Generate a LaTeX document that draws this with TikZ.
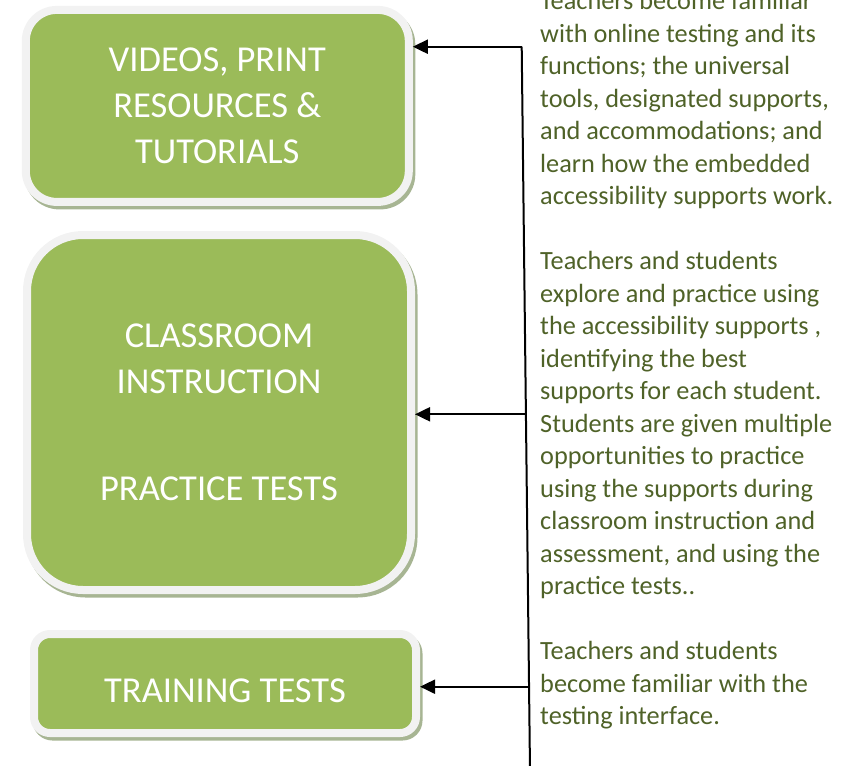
\documentclass[tikz,border=0pt]{standalone}
\usepackage{fontspec}
\setmainfont{Carlito}
\usetikzlibrary{arrows.meta}
\definecolor{boxgreen}{HTML}{9BBB59}
\definecolor{rimgray}{HTML}{F2F2F2}
\definecolor{shadegreen}{HTML}{A7B593}
\definecolor{notegreen}{HTML}{4F6228}

\begin{document}
\begin{tikzpicture}[x=1pt, y=-1pt,
    stagebox/.style={draw=rimgray, fill=boxgreen, line width=8pt, outer sep=4pt,
      text=white, align=center, font=\fontsize{36.5}{46}\selectfont,
      preaction={draw=shadegreen, fill=shadegreen, line width=8pt,
        transform canvas={shift={(2.5pt,-3.5pt)}}}},
    link/.style={line width=2pt, -{Triangle[length=15pt,width=14pt]}},
    note/.style={anchor=base west, inner sep=0pt, align=left, text=notegreen,
      font=\fontsize{26.3}{32.5}\selectfont}]
  \useasboundingbox (0,0) rectangle (868,766);

  % Boxes
  \node[stagebox, minimum width=383pt, minimum height=192pt, rounded corners=31pt]
    (videos) at (217.3,105.9) {VIDEOS, PRINT\\RESOURCES \&\\TUTORIALS};
  \node[stagebox, minimum width=384pt, minimum height=355pt, rounded corners=56pt]
    (classroom) at (219,412.5) {CLASSROOM\\INSTRUCTION\\[61pt]PRACTICE TESTS};
  \node[stagebox, minimum width=382pt, minimum height=99pt, rounded corners=16pt]
    (training) at (225,683.5) {\raisebox{-7pt}[\height][\depth]{TRAINING TESTS}};

  % Notes (base = last line)
  \node[note] (notes) at (540,724.5) {Teachers become familiar\\
    with online testing and its\\
    functions; the universal\\
    tools, designated supports,\\
    and accommodations; and\\
    learn how the embedded\\
    accessibility supports work.\\[32.5pt]
    Teachers and students\\
    explore and practice using\\
    the accessibility supports ,\\
    identifying the best\\
    supports for each student.\\
    Students are given multiple\\
    opportunities to practice\\
    using the supports during\\
    classroom instruction and\\
    assessment, and using the\\
    practice tests..\\[32.5pt]
    Teachers and students\\
    become familiar with the\\
    testing interface.};

  % Line and arrows
  \coordinate (top) at (521.7,46.7);
  \coordinate (bottom) at (530,770);
  \coordinate (midLine) at (525.3,414.3);
  \coordinate (lowLine) at (529.3,686.7);
  \draw[line width=2pt] (top) -- (bottom);
  \draw[link] (top) -- (top -| videos.east);
  \draw[link] (midLine) -- (midLine -| classroom.east);
  \draw[link] (lowLine) -- (lowLine -| training.east);
\end{tikzpicture}
\end{document}
